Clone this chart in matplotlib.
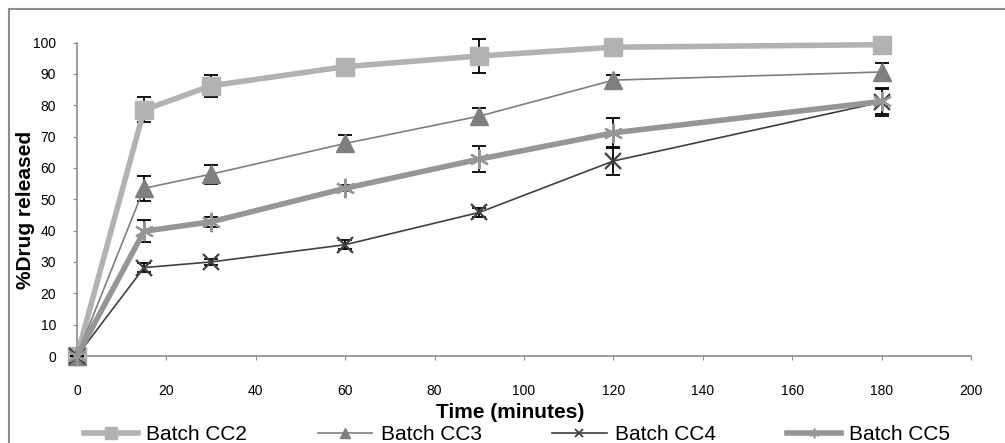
import matplotlib
matplotlib.use("Agg")
import matplotlib.pyplot as plt
from matplotlib.lines import Line2D
from matplotlib.patches import Rectangle

plt.rcParams["font.family"] = ["Liberation Sans", "DejaVu Sans"]

# ── data ─────────────────────────────────────────────────────────────────────
time_min = [0, 15, 30, 60, 90, 120, 180]

cc2 = [0, 78.5, 86.2, 92.3, 95.7, 98.5, 99.3]
cc3 = [0, 53.5, 58.0, 67.8, 76.5, 88.0, 90.6]
cc4 = [0, 28.2, 30.0, 35.5, 45.8, 62.2, 81.0]
cc5 = [0, 39.8, 42.8, 53.5, 62.8, 71.2, 81.2]

cc2_err = [0, 4.0, 3.5, 1.0, 5.5, 1.0, 1.0]
cc3_err = [0, 4.0, 3.0, 2.8, 2.5, 1.5, 3.0]
cc4_err = [0, 1.5, 1.0, 1.5, 1.5, 4.5, 4.5]
cc5_err = [0, 3.5, 1.5, 1.0, 4.2, 4.8, 4.0]

labels = ["Batch CC2", "Batch CC3", "Batch CC4", "Batch CC5"]

# ── figure ───────────────────────────────────────────────────────────────────
W, H = 1005, 443
fig = plt.figure(figsize=(W / 100, H / 100), dpi=100)
ax = fig.add_axes([77 / W, 1 - 356 / H, (971 - 77) / W, (356 - 42.5) / H])

# outer chart frame (runs off the right and bottom edges)
fig.patches.append(Rectangle((9 / W, -0.2), 1.2, 1 - 9 / H + 0.2,
                             transform=fig.transFigure, fill=False,
                             edgecolor="#8c8c8c", linewidth=1.5,
                             clip_on=False))

styles = [
    dict(color="#b2b2b2", lw=4.0, marker="s", ms=13, mec="#b2b2b2"),
    dict(color="#7f7f7f", lw=1.2, marker="^", ms=13, mec="#7f7f7f"),
    dict(color="#404040", lw=1.2, marker="x", ms=11, mew=1.6, mec="#404040"),
    dict(color="#969696", lw=4.0, marker=(6, 2, 0), ms=14, mew=1.6, mec="#969696"),
]
series = [(cc2, cc2_err), (cc3, cc3_err), (cc4, cc4_err), (cc5, cc5_err)]

for i, ((vals, err), st) in enumerate(zip(series, styles)):
    eb = ax.errorbar(time_min, vals, yerr=err, fmt="none", ecolor="black",
                     elinewidth=1.3, capsize=5, capthick=1.3, zorder=2 + i * 2)
    for art in eb.lines[1] + eb.lines[2]:
        art.set_clip_on(False)
    ax.plot(time_min, vals, color=st["color"], lw=st["lw"],
            marker=st["marker"], ms=st["ms"], mec=st["mec"],
            mfc=st["color"], mew=st.get("mew", 1), zorder=3 + i * 2,
            clip_on=False)

ax.set_xlim(0, 200)
ax.set_ylim(0, 100)
ax.set_xticks(range(0, 201, 20))
ax.set_yticks(range(0, 101, 10))
for s in ["top", "right"]:
    ax.spines[s].set_visible(False)
for s in ["left", "bottom"]:
    ax.spines[s].set_color("#8c8c8c")
    ax.spines[s].set_linewidth(1.2)
    ax.spines[s].set_zorder(1)
ax.tick_params(axis="x", direction="out", length=3, color="#8c8c8c",
               labelsize=10, pad=17)
ax.tick_params(axis="y", direction="out", length=3, color="#8c8c8c",
               labelsize=10, pad=12)

fig.text(510 / W, 1 - 412 / H, "Time (minutes)", ha="center", va="center",
         fontsize=15, fontweight="bold")
fig.text(26 / W, 1 - 210 / H, "%Drug released", ha="center", va="center",
         rotation=90, fontsize=15, fontweight="bold")

handles = [
    Line2D([], [], color="#b2b2b2", lw=4.0, marker="s", ms=8, mec="#b2b2b2"),
    Line2D([], [], color="#7f7f7f", lw=1.2, marker="^", ms=7, mec="#7f7f7f"),
    Line2D([], [], color="#404040", lw=1.2, marker="x", ms=6, mew=1.3, mec="#404040"),
    Line2D([], [], color="#969696", lw=4.0, marker=(6, 2, 0), ms=7, mew=1.2, mec="#969696"),
]
fig.legend(handles, labels, loc="center", ncol=4,
           bbox_to_anchor=(517 / W, 1 - 435 / H), frameon=False,
           fontsize=15, handlelength=2.6, handletextpad=0.4,
           columnspacing=3.4, borderpad=0)

fig.savefig("out.png", dpi=100)
